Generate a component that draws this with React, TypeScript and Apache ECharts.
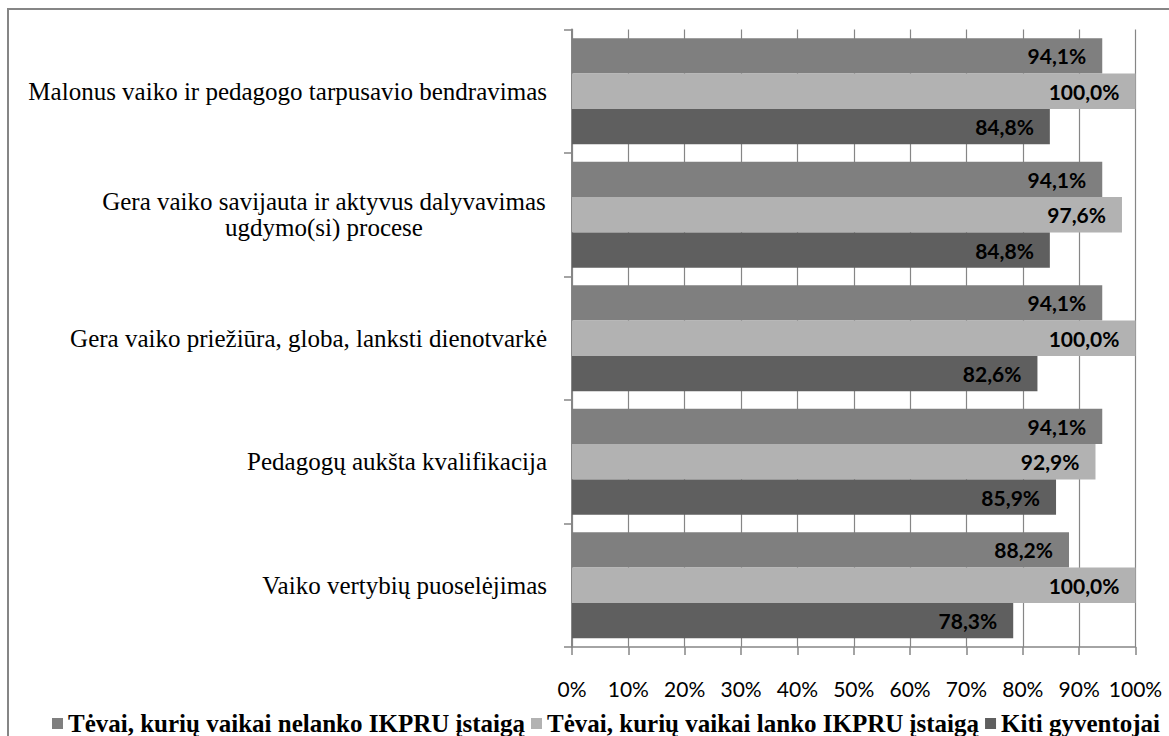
import React, { useEffect, useRef } from "react";
import * as echarts from "echarts";

const categories = [
  "Malonus vaiko ir pedagogo tarpusavio bendravimas",
  "Gera vaiko savijauta ir aktyvus dalyvavimas\nugdymo(si) procese",
  "Gera vaiko priežiūra, globa, lanksti dienotvarkė",
  "Pedagogų aukšta kvalifikacija",
  "Vaiko vertybių puoselėjimas",
];

const seriesNames = [
  "Tėvai, kurių vaikai nelanko IKPRU įstaigą",
  "Tėvai, kurių vaikai lanko IKPRU įstaigą",
  "Kiti gyventojai",
];

const nelanko = [94.1, 94.1, 94.1, 94.1, 88.2];
const lanko = [100.0, 97.6, 100.0, 92.9, 100.0];
const kiti = [84.8, 84.8, 82.6, 85.9, 78.3];

const colors = ["#7f7f7f", "#b2b2b2", "#5f5f5f"];

const SANS = "Lato, 'Liberation Sans', sans-serif";
const SERIF = "'Liberation Serif', 'Times New Roman', serif";

export default function App() {
  const ref = useRef<HTMLDivElement>(null);

  useEffect(() => {
    if (!ref.current) return;
    const chart = echarts.init(ref.current, undefined, { renderer: "svg" });
    const values = [nelanko, lanko, kiti];
    const labelFmt = (p: any) => Number(p.value).toFixed(1).replace(".", ",") + "%";
    chart.setOption({
      animation: false,
      backgroundColor: "#ffffff",
      color: colors,
      grid: { left: 572, right: 33.5, top: 29.5, bottom: 89, containLabel: false },
      legend: {
        left: 47,
        top: 706,
        itemWidth: 11,
        itemHeight: 11,
        itemGap: 6,
        icon: "rect",
        data: seriesNames,
        textStyle: { fontFamily: SERIF, fontWeight: "bold", fontSize: 25, lineHeight: 25, color: "#000" },
      },
      xAxis: {
        type: "value",
        min: 0,
        max: 100,
        interval: 10,
        axisLine: { show: true, lineStyle: { color: "#868686", width: 1.5 } },
        axisTick: { show: true, length: 8, lineStyle: { color: "#868686", width: 1.5 } },
        splitLine: { show: true, lineStyle: { color: "#868686", width: 1.2 } },
        axisLabel: {
          formatter: "{value}%",
          margin: 31,
          fontFamily: SANS,
          fontSize: 21,
          color: "#000",
        },
      },
      yAxis: {
        type: "category",
        inverse: true,
        data: categories,
        axisLine: { show: true, lineStyle: { color: "#868686", width: 2 } },
        axisTick: { show: true, length: 8, alignWithLabel: false, lineStyle: { color: "#868686", width: 1.5 } },
        axisLabel: {
          margin: 25,
          fontFamily: SERIF,
          fontSize: 25,
          color: "#000",
          lineHeight: 27,
          formatter: (v: string) => {
            if (v.indexOf("\n") >= 0) {
              return v
                .split("\n")
                .map((l) => "{c|" + l + "}")
                .join("\n");
            }
            return v;
          },
          rich: {
            c: {
              width: 446,
              align: "center",
              fontFamily: SERIF,
              fontSize: 25,
              lineHeight: 26,
              color: "#000",
            },
          },
        },
      },
      graphic: [
        {
          type: "rect",
          shape: { x: 8, y: 9, width: 1300, height: 900 },
          style: { fill: "none", stroke: "#868686", lineWidth: 2 },
          silent: true,
        },
      ],
      series: seriesNames.map((name, i) => ({
        name,
        type: "bar",
        data: values[i],
        barGap: "0%",
        barCategoryGap: "14%",
        itemStyle: { color: colors[i] },
        label: {
          show: true,
          position: "insideRight",
          distance: 16,
          formatter: labelFmt,
          fontFamily: SANS,
          fontWeight: "bold",
          fontSize: 21,
          color: "#000",
        },
      })),
    });
    return () => chart.dispose();
  }, []);

  return (
    <div
      ref={ref}
      style={{ position: "absolute", left: 0, top: 0, width: 1169, height: 736, background: "#fff" }}
    />
  );
}
